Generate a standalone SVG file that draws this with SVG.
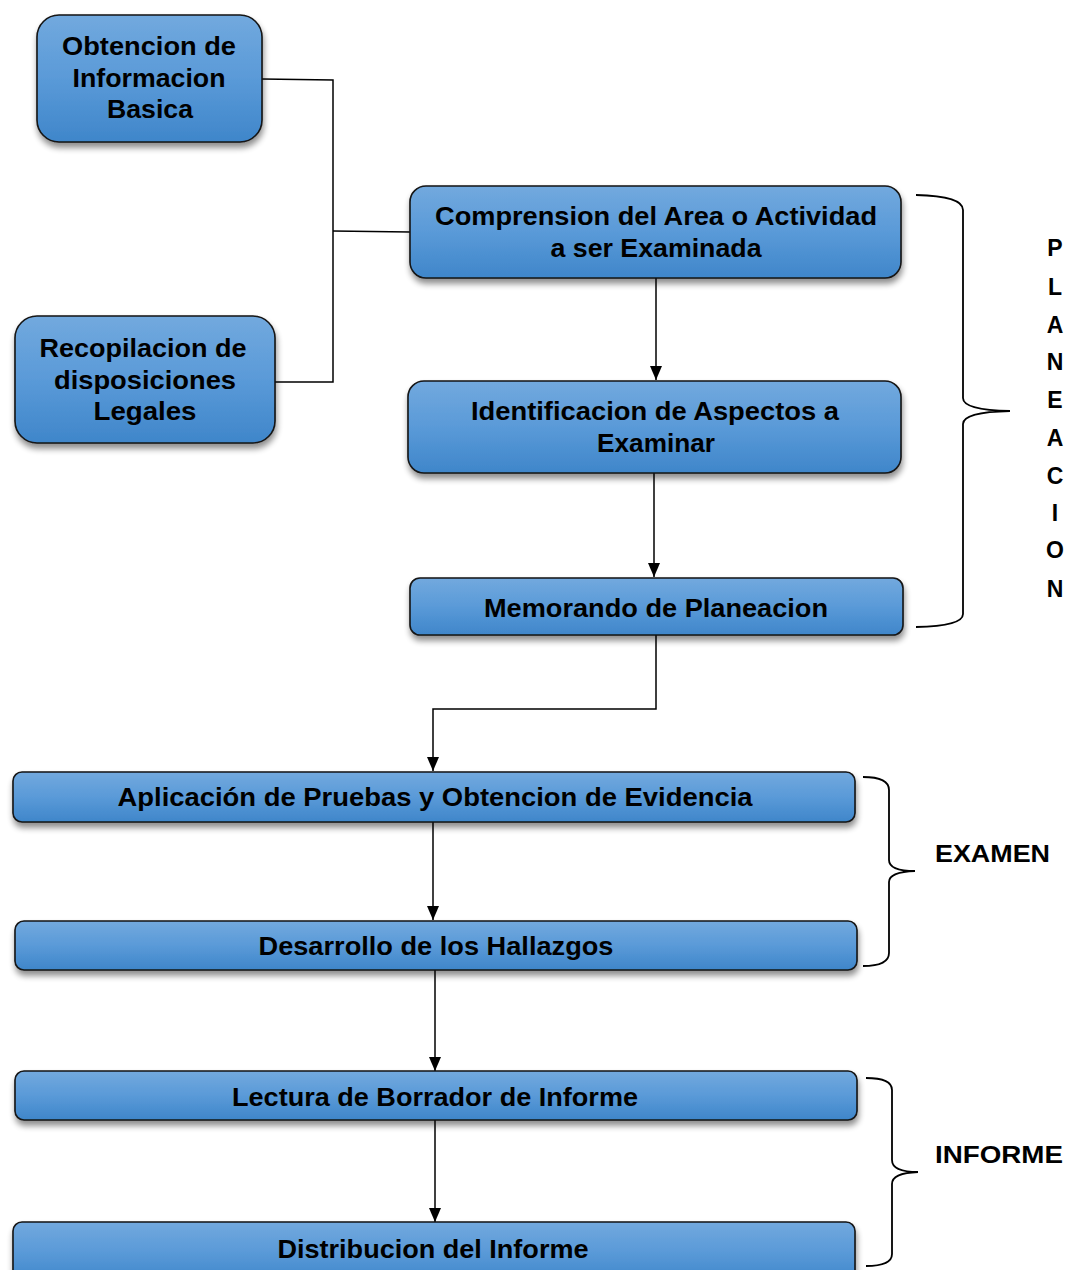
<svg xmlns="http://www.w3.org/2000/svg" width="1067" height="1270" viewBox="0 0 1067 1270">
<defs>
<linearGradient id="g" x1="0" y1="0" x2="0" y2="1">
<stop offset="0" stop-color="#72a9de"/>
<stop offset="0.5" stop-color="#5a9ad8"/>
<stop offset="1" stop-color="#3f86ca"/>
</linearGradient>
<filter id="sh" x="-10%" y="-20%" width="120%" height="160%">
<feGaussianBlur in="SourceAlpha" stdDeviation="3"/>
<feOffset dx="1" dy="5" result="b"/>
<feComponentTransfer><feFuncA type="linear" slope="0.45"/></feComponentTransfer>
<feMerge><feMergeNode/><feMergeNode in="SourceGraphic"/></feMerge>
</filter>
<marker id="ah" markerWidth="14" markerHeight="12" refX="14" refY="6" orient="auto" markerUnits="userSpaceOnUse" viewBox="0 0 14 12">
<path d="M0,0 L14,6 L0,12 Z" fill="#000"/>
</marker>
</defs>
<style>
.box{fill:url(#g);stroke:#141414;stroke-width:1.6;filter:url(#sh)}
.t{font-family:"Liberation Sans",Arial,sans-serif;font-weight:bold;font-size:25px;fill:#000;text-anchor:middle}
.lab{font-family:"Liberation Sans",Arial,sans-serif;font-weight:bold;font-size:24px;fill:#000}
.v{font-family:"Liberation Sans",Arial,sans-serif;font-weight:bold;font-size:23px;fill:#000;text-anchor:middle}
.c{fill:none;stroke:#000;stroke-width:1.5}
.br{fill:none;stroke:#000;stroke-width:1.8}
</style>
<rect width="1067" height="1270" fill="#fff"/>
<g id="connectors">
<path class="c" d="M262,79 L333,80 L333,382 L275,382"/>
<path class="c" d="M333,231 L410,232"/>
<path class="c" d="M656,278 L656,380" marker-end="url(#ah)"/>
<path class="c" d="M654,473 L654,577" marker-end="url(#ah)"/>
<path class="c" d="M656,635 L656,709 L433,709 L433,771" marker-end="url(#ah)"/>
<path class="c" d="M433,822 L433,920" marker-end="url(#ah)"/>
<path class="c" d="M435,970 L435,1071" marker-end="url(#ah)"/>
<path class="c" d="M435,1120 L435,1222" marker-end="url(#ah)"/>
</g>
<g id="n1"><rect class="box" x="37" y="15" width="225" height="127" rx="22"/>
<text class="t" x="149" y="55" textLength="174" lengthAdjust="spacingAndGlyphs">Obtencion de</text>
<text class="t" x="149" y="87" textLength="153" lengthAdjust="spacingAndGlyphs">Informacion</text>
<text class="t" x="150" y="118" textLength="86" lengthAdjust="spacingAndGlyphs">Basica</text></g>
<g id="n2"><rect class="box" x="15" y="316" width="260" height="127" rx="22"/>
<text class="t" x="143" y="357" textLength="207" lengthAdjust="spacingAndGlyphs">Recopilacion de</text>
<text class="t" x="145" y="389" textLength="182" lengthAdjust="spacingAndGlyphs">disposiciones</text>
<text class="t" x="145" y="420" textLength="103" lengthAdjust="spacingAndGlyphs">Legales</text></g>
<g id="n3"><rect class="box" x="410" y="186" width="491" height="92" rx="16"/>
<text class="t" x="656" y="225" textLength="442" lengthAdjust="spacingAndGlyphs">Comprension del Area o Actividad</text>
<text class="t" x="656" y="257" textLength="211" lengthAdjust="spacingAndGlyphs">a ser Examinada</text></g>
<g id="n4"><rect class="box" x="408" y="381" width="493" height="92" rx="16"/>
<text class="t" x="655" y="420" textLength="368" lengthAdjust="spacingAndGlyphs">Identificacion de Aspectos a</text>
<text class="t" x="656" y="452" textLength="118" lengthAdjust="spacingAndGlyphs">Examinar</text></g>
<g id="n5"><rect class="box" x="410" y="578" width="493" height="57" rx="10"/>
<text class="t" x="656" y="617" textLength="344" lengthAdjust="spacingAndGlyphs">Memorando de Planeacion</text></g>
<g id="n6"><rect class="box" x="13" y="772" width="842" height="50" rx="9"/>
<text class="t" x="435" y="806" textLength="635" lengthAdjust="spacingAndGlyphs">Aplicación  de Pruebas y Obtencion de Evidencia</text></g>
<g id="n7"><rect class="box" x="15" y="921" width="842" height="49" rx="9"/>
<text class="t" x="436" y="955" textLength="355" lengthAdjust="spacingAndGlyphs">Desarrollo de los Hallazgos</text></g>
<g id="n8"><rect class="box" x="15" y="1071" width="842" height="49" rx="9"/>
<text class="t" x="435" y="1106" textLength="406" lengthAdjust="spacingAndGlyphs">Lectura de Borrador de Informe</text></g>
<g id="n9"><rect class="box" x="13" y="1222" width="842" height="60" rx="9"/>
<text class="t" x="433" y="1258" textLength="311" lengthAdjust="spacingAndGlyphs">Distribucion del Informe</text></g>
<g id="braces">
<path class="br" d="M916,195 Q963,196 963,210 L963,398 Q963,410 1010,411 Q963,412 963,424 L963,614 Q963,626 916,627"/>
<path class="br" d="M863,777 Q889,777 889,790 L889,860 Q889,871 915,871 Q889,872 889,882 L889,953 Q889,966 863,966"/>
<path class="br" d="M866,1078 Q892,1078 892,1090 L892,1160 Q892,1172 918,1172 Q892,1173 892,1184 L892,1254 Q892,1266 866,1266"/>
</g>
<g id="labels">
<text class="v" x="1055" y="256">P</text>
<text class="v" x="1055" y="295">L</text>
<text class="v" x="1055" y="333">A</text>
<text class="v" x="1055" y="370">N</text>
<text class="v" x="1055" y="408">E</text>
<text class="v" x="1055" y="446">A</text>
<text class="v" x="1055" y="484">C</text>
<text class="v" x="1055" y="521">I</text>
<text class="v" x="1055" y="558">O</text>
<text class="v" x="1055" y="597">N</text>
<text class="lab" x="935" y="862" textLength="115" lengthAdjust="spacingAndGlyphs">EXAMEN</text>
<text class="lab" x="935" y="1163" textLength="128" lengthAdjust="spacingAndGlyphs">INFORME</text>
</g>
</svg>
